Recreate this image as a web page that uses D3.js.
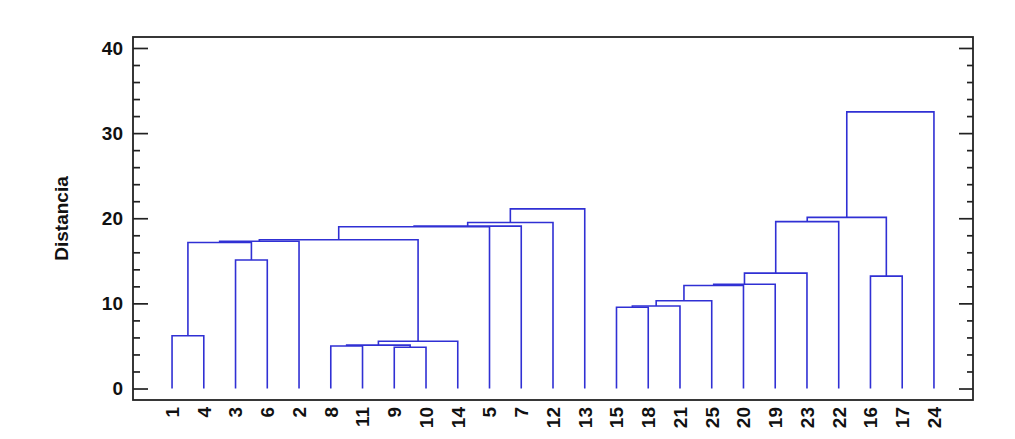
<!DOCTYPE html>
<meta charset="utf-8">
<script src="https://d3js.org/d3.v7.min.js"></script>
<style>
  body { margin: 0; background: #fff; }
  text { font-family: "Liberation Sans", Arial, sans-serif; font-weight: bold; fill: #111; }
</style>
<body>
<script>
// Leaf order along the x axis
const leaves = ["1","4","3","6","2","8","11","9","10","14","5","7","12","13",
                "15","18","21","25","20","19","23","22","16","17","24"];

// Merge steps: [left child, right child, distance]; children are leaf labels or "c" + step index
const mergeLeft  = ["1","3","c0","c2","8","9","c4","c6","c3","c8","c9","c10","c11",
                    "15","c13","c14","c15","c16","c17","c18","16","c19","c21"];
const mergeRight = ["4","6","c1","2","11","10","c5","14","c7","5","7","12","13",
                    "18","21","25","20","19","23","22","17","c20","24"];
const mergeDist  = [6.2, 15.1, 17.15, 17.3, 5.0, 4.85, 5.1, 5.55, 17.47, 19.0, 19.08, 19.5, 21.1,
                    9.55, 9.7, 10.3, 12.1, 12.25, 13.55, 19.6, 13.2, 20.1, 32.5];

const yTicks = [0, 10, 20, 30, 40];
const yMinor = d3.range(2, 40, 2).filter(v => v % 10 !== 0);

// Plot frame
const margin = {top: 37, right: 42, bottom: 39, left: 133},
      width = 1015 - margin.left - margin.right,
      height = 439 - margin.top - margin.bottom;

const svg = d3.select("body")
  .append("svg")
  .attr("width", 1015)
  .attr("height", 439)
  .append("g")
  .attr("transform", `translate(${margin.left}, ${margin.top})`);

const x = d3.scalePoint().domain(leaves).range([0, width]).padding(1.23);
const y = d3.scaleLinear().domain([-1.35, 41.29]).range([height, 0]);

// Frame box
svg.append("rect")
  .attr("width", width)
  .attr("height", height)
  .attr("fill", "none")
  .attr("stroke", "#222")
  .attr("stroke-width", 1.8);

// Inward ticks on left and right sides
const axisLeft = d3.axisLeft(y).tickValues(yTicks).tickSizeInner(-15).tickSizeOuter(0).tickFormat("");
const axisRight = d3.axisRight(y).tickValues(yTicks).tickSizeInner(-14).tickSizeOuter(0).tickFormat("");
const axisLeftMinor = d3.axisLeft(y).tickValues(yMinor).tickSizeInner(-7).tickSizeOuter(0).tickFormat("");
const axisRightMinor = d3.axisRight(y).tickValues(yMinor).tickSizeInner(-6).tickSizeOuter(0).tickFormat("");

[[axisLeft, 0], [axisLeftMinor, 0], [axisRight, width], [axisRightMinor, width]].forEach(([ax, tx]) => {
  const g = svg.append("g").attr("transform", `translate(${tx},0)`).call(ax);
  g.select(".domain").remove();
  g.selectAll("line").attr("stroke", "#222").attr("stroke-width", 1.7);
});

// Tick labels
svg.selectAll(".ylab")
  .data(yTicks)
  .enter()
  .append("text")
  .attr("class", "ylab")
  .attr("x", -10)
  .attr("y", d => y(d))
  .attr("dy", "0.36em")
  .attr("text-anchor", "end")
  .style("font-size", "19px")
  .text(d => d);

// Y axis title
svg.append("text")
  .attr("transform", `translate(-65, ${height / 2}) rotate(-90)`)
  .attr("text-anchor", "middle")
  .style("font-size", "19px")
  .text("Distancia");

// Leaf labels
svg.selectAll(".xlab")
  .data(leaves)
  .enter()
  .append("text")
  .attr("class", "xlab")
  .attr("transform", d => `translate(${x(d)}, ${height + 7}) rotate(-90)`)
  .attr("dy", "0.36em")
  .attr("text-anchor", "end")
  .style("font-size", "19px")
  .text(d => d);

// Build cluster positions and draw links
const pos = {}, hgt = {};
leaves.forEach(l => { pos[l] = x(l); hgt[l] = 0; });

const links = svg.append("g")
  .attr("fill", "none")
  .attr("stroke", "#3030d4")
  .attr("stroke-width", 1.6);

mergeDist.forEach((d, i) => {
  const a = mergeLeft[i], b = mergeRight[i];
  const xa = pos[a], xb = pos[b];
  const path = d3.path();
  path.moveTo(xa, y(hgt[a]));
  path.lineTo(xa, y(d));
  path.lineTo(xb, y(d));
  path.lineTo(xb, y(hgt[b]));
  links.append("path").attr("d", path.toString());
  pos["c" + i] = (xa + xb) / 2;
  hgt["c" + i] = d;
});
</script>
</body>
</html>
